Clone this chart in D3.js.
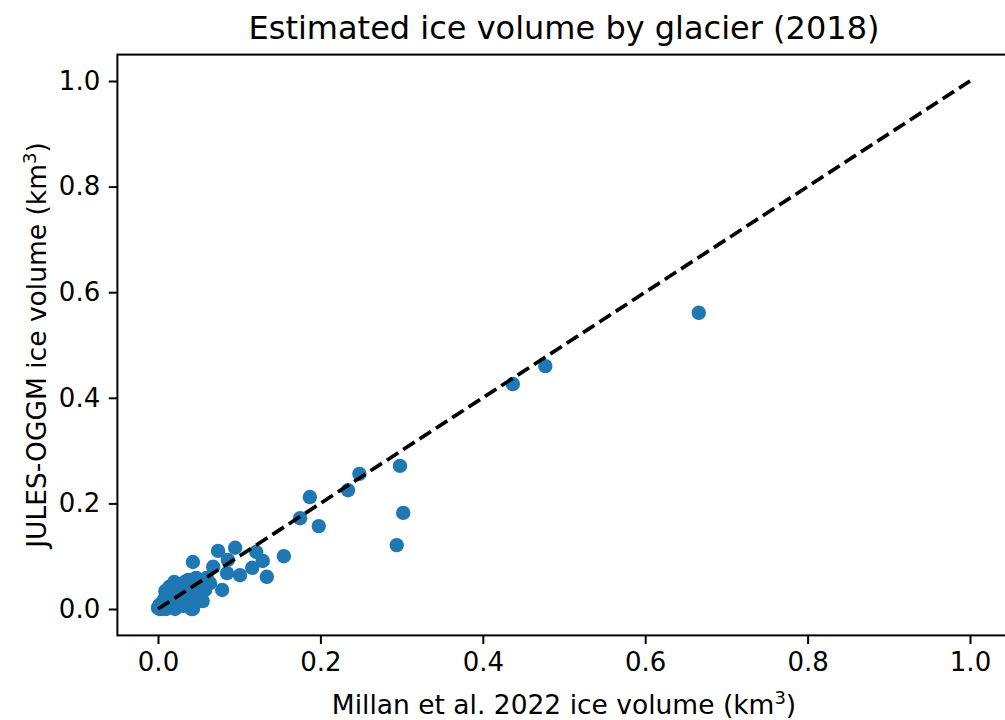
<!DOCTYPE html>
<html>
<head>
<meta charset="utf-8">
<script src="https://cdn.jsdelivr.net/npm/d3@7"></script>
<style>
  body { margin: 0; background: #fff; }
  text { font-family: "DejaVu Sans", sans-serif; fill: #000; }
</style>
</head>
<body>
<script>
// ice volume per glacier, km3
const millanVol = [
  0.666, 0.477, 0.437, 0.298, 0.302, 0.294, 0.248, 0.234, 0.187, 0.175,
  0.198, 0.155, 0.134, 0.129, 0.121, 0.116, 0.101, 0.095, 0.086, 0.085,
  0.074, 0.068, 0.079, 0.043, 0.041,
  0.000, 0.002, 0.005, 0.007, 0.010, 0.012, 0.015, 0.017, 0.021, 0.025,
  0.028, 0.033, 0.037, 0.042, 0.047, 0.052, 0.057, 0.060, 0.049, 0.039,
  0.032, 0.022, 0.015, 0.010, 0.021, 0.031, 0.042, 0.052, 0.043, 0.002,
  0.005, 0.001, 0.020, 0.027, 0.036, 0.058, 0.064,
  0.009, 0.014, 0.030, 0.045, 0.055, 0.025, 0.036
];
const julesVol = [
  0.561, 0.460, 0.426, 0.271, 0.182, 0.121, 0.256, 0.225, 0.212, 0.172,
  0.157, 0.100, 0.061, 0.091, 0.108, 0.078, 0.064, 0.116, 0.093, 0.068,
  0.110, 0.080, 0.036, 0.089, 0.000,
  0.002, 0.008, 0.011, 0.017, 0.021, 0.025, 0.028, 0.036, 0.040, 0.044,
  0.047, 0.051, 0.055, 0.055, 0.059, 0.051, 0.047, 0.059, 0.036, 0.028,
  0.025, 0.017, 0.009, 0.000, 0.000, 0.006, 0.017, 0.025, 0.000, 0.000,
  0.000, 0.005, 0.051, 0.036, 0.040, 0.036, 0.049,
  0.034, 0.042, 0.020, 0.010, 0.015, 0.008, 0.012
];
const tickVals = [0.0, 0.2, 0.4, 0.6, 0.8, 1.0];
const oneToOne = [0, 1];

var w = 1005,
    h = 720;
// plot area (named so they don't clash with window.top)
var plotLeft = 117.4, plotRight = 1010.6, plotTop = 54.6, plotBottom = 635.4;
var tickLen = 8.6, pad = 8.6;

var svg = d3.select("body").append("svg")
    .attr("width", w)
    .attr("height", h);

var x = d3.scaleLinear().domain([-0.05, 1.05]).range([plotLeft, plotRight]);
var y = d3.scaleLinear().domain([-0.05, 1.05]).range([plotBottom, plotTop]);

const points = millanVol.map((v, i) => ({mx: v, jv: julesVol[i]}));

// scatter
svg.append("g").selectAll("circle")
    .data(points)
    .enter().append("circle")
    .attr("cx", d => x(d.mx))
    .attr("cy", d => y(d.jv))
    .attr("r", 7.2)
    .style("fill", "#1f77b4");

// 1:1 line
svg.append("path")
    .datum(oneToOne)
    .attr("d", d3.line().x(d => x(d)).y(d => y(d)))
    .attr("fill", "none")
    .attr("stroke", "#000")
    .attr("stroke-width", 3.7)
    .attr("stroke-dasharray", "13.6 5.9");

// axes
var fmt = d3.format(".1f");
var xAxis = svg.append("g")
    .attr("transform", "translate(0," + plotBottom + ")")
    .call(d3.axisBottom(x).tickValues(tickVals).tickFormat(fmt).tickSizeInner(tickLen).tickSizeOuter(0).tickPadding(pad));
var yAxis = svg.append("g")
    .attr("transform", "translate(" + plotLeft + ",0)")
    .call(d3.axisLeft(y).tickValues(tickVals).tickFormat(fmt).tickSizeInner(tickLen).tickSizeOuter(0).tickPadding(pad));

[xAxis, yAxis].forEach(g => {
    g.select(".domain").remove();
    g.selectAll(".tick line").attr("stroke", "#000").attr("stroke-width", 2);
    g.selectAll(".tick text").style("font-size", "26px").attr("fill", "#000");
});

// frame
svg.append("rect")
    .attr("x", plotLeft).attr("y", plotTop)
    .attr("width", plotRight - plotLeft).attr("height", plotBottom - plotTop)
    .attr("fill", "none")
    .attr("stroke", "#000")
    .attr("stroke-width", 2);

// title and labels
svg.append("text")
    .attr("x", (plotLeft + plotRight) / 2)
    .attr("y", 39)
    .attr("text-anchor", "middle")
    .style("font-size", "32px")
    .text("Estimated ice volume by glacier (2018)");

var xl = svg.append("text")
    .attr("x", (plotLeft + plotRight) / 2)
    .attr("y", 714)
    .attr("text-anchor", "middle")
    .style("font-size", "26.5px");
xl.append("tspan").text("Millan et al. 2022 ice volume (km");
xl.append("tspan").attr("dy", -10).style("font-size", "18px").text("3");
xl.append("tspan").attr("dy", 10).text(")");

var yl = svg.append("text")
    .attr("transform", "translate(46," + ((plotTop + plotBottom) / 2) + ") rotate(-90)")
    .attr("text-anchor", "middle")
    .style("font-size", "26.5px");
yl.append("tspan").text("JULES-OGGM ice volume (km");
yl.append("tspan").attr("dy", -10).style("font-size", "18px").text("3");
yl.append("tspan").attr("dy", 10).text(")");
</script>
</body>
</html>
